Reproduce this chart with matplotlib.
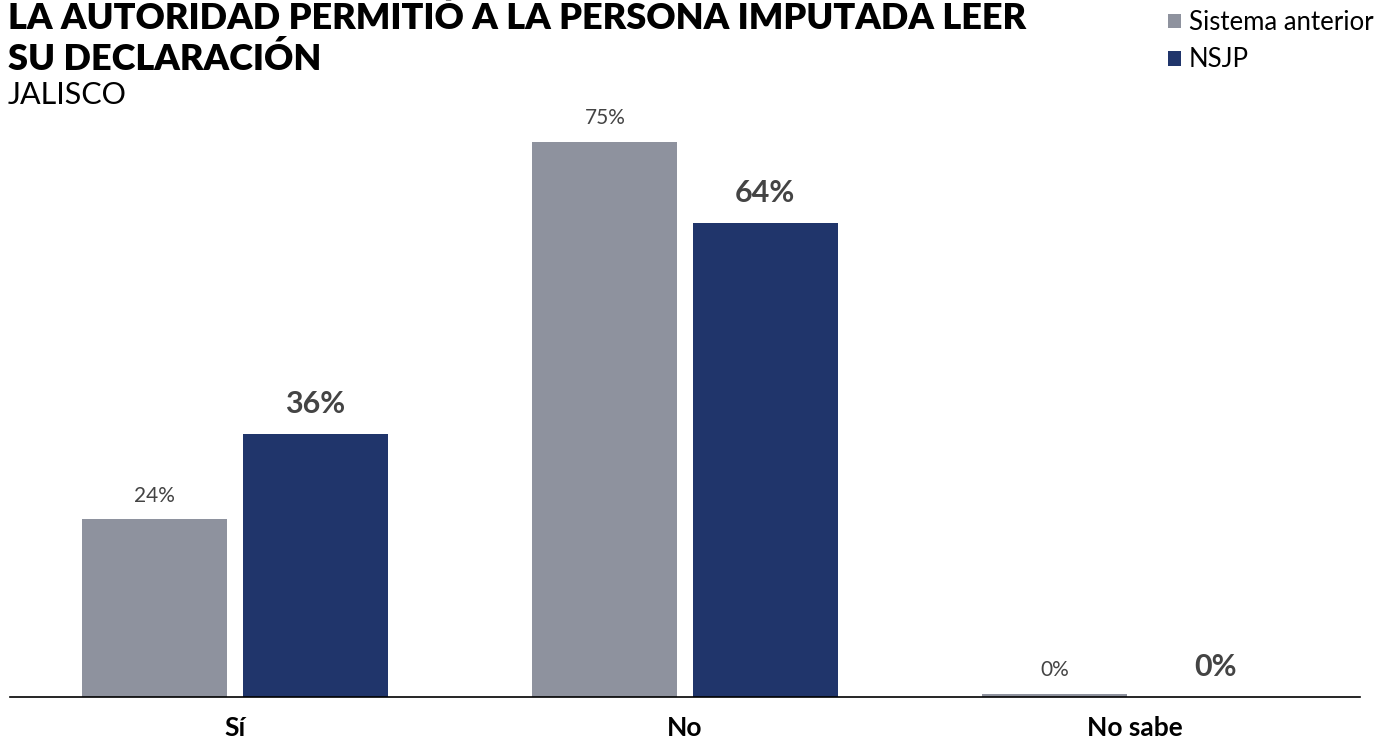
import matplotlib
matplotlib.use("Agg")
import matplotlib.pyplot as plt
import numpy as np

plt.rcParams['font.family'] = ['Lato', 'DejaVu Sans']

categories = ["Sí", "No", "No sabe"]
series_names = ["Sistema anterior", "NSJP"]
sistema_anterior = [24.0, 75.0, 0.4]
nsjp = [35.5, 64.0, 0.0]
title = "LA AUTORIDAD PERMITIÓ A LA PERSONA IMPUTADA LEER\nSU DECLARACIÓN"
subtitle = "JALISCO"

gray = "#8E929E"
navy = "#20356B"
label_color = "#444444"

W, H = 1386, 740
fig = plt.figure(figsize=(W / 100, H / 100), dpi=100)
ax = fig.add_axes([10 / W, (H - 697) / H, 1350 / W, 592 / H])

x = np.arange(len(categories))
bw = 0.322
off = 0.178
b1 = ax.bar(x - off, sistema_anterior, bw, color=gray, label=series_names[0])
b2 = ax.bar(x + off, nsjp, bw, color=navy, label=series_names[1])

ax.bar_label(b1, labels=[f"{v:.0f}%" for v in sistema_anterior], padding=10,
             fontsize=15, color=label_color)
ax.bar_label(b2, labels=[f"{v:.0f}%" for v in nsjp], padding=11.5,
             fontsize=22, fontweight='bold', color=label_color)

ax.set_xlim(-0.5, 2.5)
ax.set_ylim(0, 80)
for s in ["top", "left", "right"]:
    ax.spines[s].set_visible(False)
ax.spines["bottom"].set_linewidth(1.2)
ax.spines["bottom"].set_color("black")
ax.set_yticks([])
ax.set_xticks(x)
ax.set_xticklabels(categories, fontsize=19, fontweight='bold', color='black')
ax.tick_params(axis='x', length=0, pad=14)

fig.text(8 / W, 1 - 1 / H, title, fontsize=26, fontweight='heavy', color='black',
         va='top', ha='left', linespacing=1.24)
fig.text(8 / W, 1 - 104 / H, subtitle, fontsize=22, color='black', va='baseline', ha='left')

leg = fig.legend(handles=[b1, b2], labels=series_names, loc='upper left',
                 bbox_to_anchor=(1168 / W, 1 - 10 / H), frameon=False, fontsize=18.5,
                 handlelength=0.5, handleheight=0.5, handletextpad=0.3,
                 labelspacing=0.48, borderaxespad=0, borderpad=0)

fig.savefig("out.png", dpi=100)
